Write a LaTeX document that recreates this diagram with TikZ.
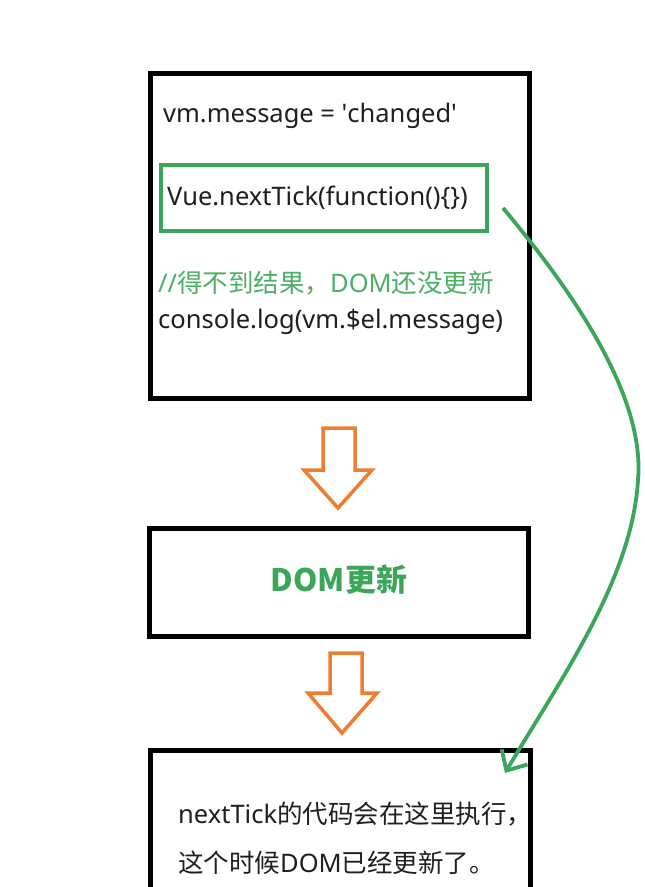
\documentclass[tikz,border=0pt]{standalone}
\usepackage{fontspec}
\setmainfont{Noto Sans}
\newfontfamily\cjk{Noto Sans CJK SC}
\usetikzlibrary{arrows.meta}
\definecolor{dgreen}{RGB}{59,166,90}
\definecolor{tgreen}{RGB}{76,175,100}
\definecolor{orng}{RGB}{237,125,49}
\begin{document}
\begin{tikzpicture}[x=1pt,y=-1pt,
  blackbox/.style={draw=black, line width=4.5pt, rectangle, inner sep=0pt, anchor=north west},
  greenbox/.style={draw=dgreen, line width=3.5pt, rectangle, inner sep=0pt, anchor=north west},
  txt/.style={anchor=base west, inner sep=0pt, font=\fontsize{25.5}{30}\selectfont, text=black!88},
  hollow/.style={draw=orng, line width=3.5pt, line join=miter},
  link/.style={draw=dgreen, line width=3.8pt, -{Straight Barb[length=16pt,width=30pt,line width=3.8pt]}},
]
\useasboundingbox (0,0) rectangle (645,887);
\clip (0,0) rectangle (645,887);
\fill[white] (0,0) rectangle (645,887);
% boxes
\node[blackbox, minimum width=379pt, minimum height=325pt] (b1) at (148,71) {};
\node[greenbox, minimum width=326pt, minimum height=66pt] (g) at (159,163) {};
\node[blackbox, minimum width=379pt, minimum height=108pt] (b2) at (147,526) {};
\node[blackbox, minimum width=380pt, minimum height=200pt] (b3) at (148,748) {};
% texts
\node[txt] (t1) at (163,122) {vm.message = \textquotesingle changed\textquotesingle};
\node[txt] (t2) at (167,205) {Vue.nextTick(function()\{\})};
\node[txt, text=tgreen] (t3) at (158,292) {//{\cjk 得不到结果，}DOM{\cjk 还没更新}};
\node[txt] (t4) at (158,328) {console.log(vm.\$el.message)};
\node[anchor=base, inner sep=0pt, font=\fontsize{31}{36}\selectfont, text=dgreen] (t5) at (339,591) {\cjk\bfseries DOM更新};
\node[txt] (t6) at (178,823) {nextTick{\cjk 的代码会在这里执行，}};
\node[txt] (t7) at (178,872) {{\cjk 这个时候}DOM{\cjk 已经更新了。}};
% hollow arrows
\draw[hollow] (323,428) -- (355,428) -- (355,470) -- (372,470) -- (338,508) -- (304,470) -- (323,470) -- cycle;
\draw[hollow] (330,653) -- (362,653) -- (362,693) -- (377,693) -- (342,733) -- (308,693) -- (330,693) -- cycle;
% curved link
\coordinate (cs) at (503,208);
\coordinate (ce) at (505,773);
\draw[link] (cs) .. controls (580,300) and (645,400) .. (638,480) .. controls (632,580) and (560,680) .. (ce);
\end{tikzpicture}
\end{document}
